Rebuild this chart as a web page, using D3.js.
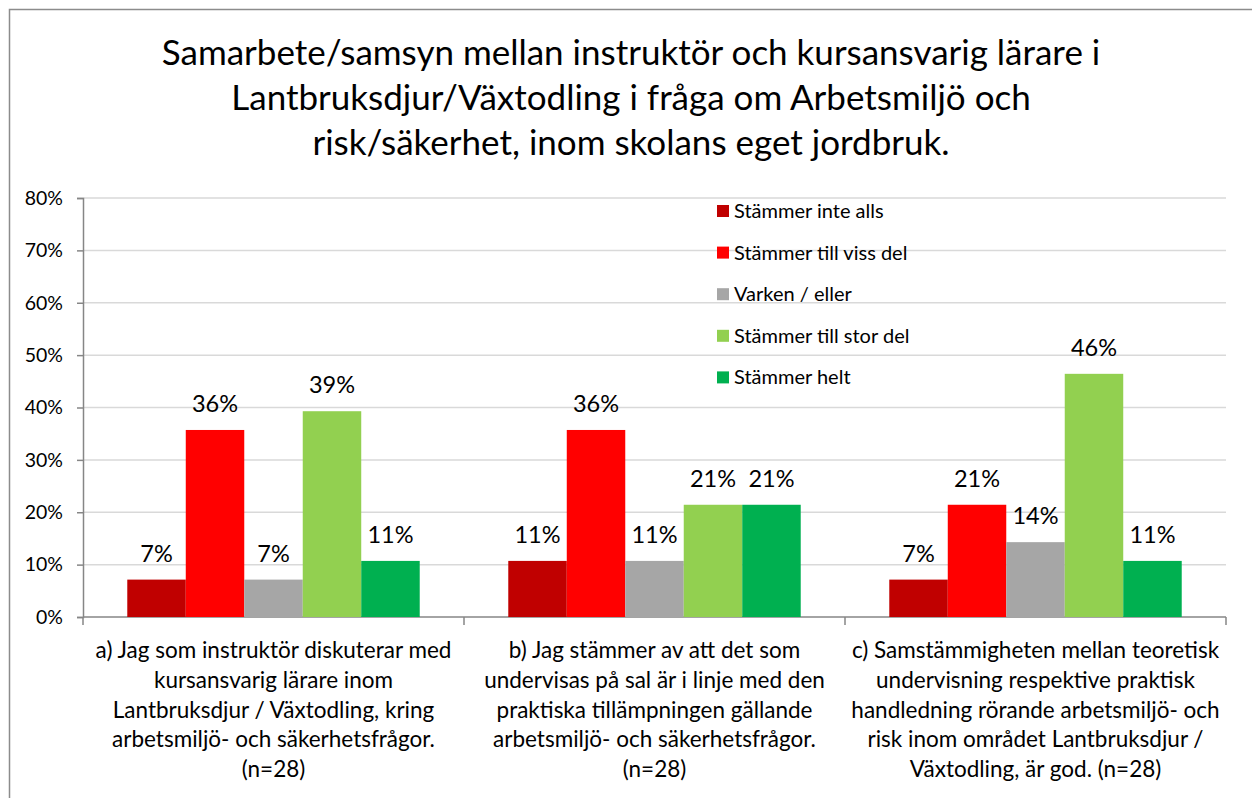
<!DOCTYPE html>
<html>
<head>
<meta charset="utf-8">
<script src="https://cdn.jsdelivr.net/npm/d3@7"></script>
<style>
  body { margin: 0; background: #fff; }
  svg { display: block; font-family: Lato, "Open Sans", sans-serif; }
</style>
</head>
<body>
<div id="chart"></div>
<script>
// chart data (n=28 per question)
const titleLines = [
    "Samarbete/samsyn mellan instruktör och kursansvarig lärare i",
    "Lantbruksdjur/Växtodling i fråga om Arbetsmiljö och",
    "risk/säkerhet, inom skolans eget jordbruk."
];

const categories = ["a", "b", "c"];
const categoryLabels = [
    ["a) Jag som instruktör diskuterar med", "kursansvarig lärare inom", "Lantbruksdjur / Växtodling, kring", "arbetsmiljö- och säkerhetsfrågor.", "(n=28)"],
    ["b) Jag stämmer av att det som", "undervisas på sal är i linje med den", "praktiska tillämpningen gällande", "arbetsmiljö- och säkerhetsfrågor.", "(n=28)"],
    ["c) Samstämmigheten mellan teoretisk", "undervisning respektive praktisk", "handledning rörande arbetsmiljö- och", "risk inom området Lantbruksdjur /", "Växtodling, är god. (n=28)"]
];

const seriesNames = ["Stämmer inte alls", "Stämmer till viss del", "Varken / eller", "Stämmer till stor del", "Stämmer helt"];
const seriesColors = ["#C00000", "#FF0000", "#A6A6A6", "#92D050", "#00B050"];

// one array per series, values for categories a, b, c
const stammerInteAlls = [0.0714, 0.1071, 0.0714];
const stammerTillVissDel = [0.3571, 0.3571, 0.2143];
const varkenEller = [0.0714, 0.1071, 0.1429];
const stammerTillStorDel = [0.3929, 0.2143, 0.4643];
const stammerHelt = [0.1071, 0.2143, 0.1071];

const seriesValues = [stammerInteAlls, stammerTillVissDel, varkenEller, stammerTillStorDel, stammerHelt];

const yTicks = [0, 0.1, 0.2, 0.3, 0.4, 0.5, 0.6, 0.7, 0.8];

const W = 1252, H = 798;
const margin = {left: 83, right: 1226, top: 198, bottom: 617};

const svg = d3.select("#chart").append("svg")
    .attr("width", W)
    .attr("height", H);

svg.append("rect")
    .attr("x", 9.5).attr("y", 9.5)
    .attr("width", 1260).attr("height", 820)
    .attr("fill", "#fff")
    .attr("stroke", "#8c8c8c")
    .attr("stroke-width", 1.5);

// title
svg.append("g").selectAll("text")
    .data(titleLines)
    .enter().append("text")
        .attr("x", 631)
        .attr("y", (d, i) => 65 + i * 45)
        .attr("text-anchor", "middle")
        .style("font-size", "35px")
        .attr("fill", "#000")
        .text(d => d);

const y = d3.scaleLinear()
    .domain([0, 0.8])
    .range([margin.bottom, margin.top]);

const x0 = d3.scaleBand()
    .domain(categories)
    .range([margin.left, margin.right])
    .padding(0);

const x1 = d3.scaleBand()
    .domain(d3.range(seriesNames.length))
    .range([0, x0.bandwidth()])
    .paddingInner(0)
    .paddingOuter(0.757);

// gridlines
svg.append("g").selectAll("line")
    .data(yTicks.slice(1))
    .enter().append("line")
        .attr("x1", margin.left).attr("x2", margin.right)
        .attr("y1", d => y(d)).attr("y2", d => y(d))
        .attr("stroke", "#d9d9d9")
        .attr("stroke-width", 1.5);

// y axis
const yAxis = svg.append("g")
    .attr("transform", `translate(${margin.left},0)`)
    .call(d3.axisLeft(y).tickValues(yTicks).tickFormat(d3.format(".0%")).tickSize(6).tickPadding(14));
yAxis.select(".domain").attr("stroke", "#868686").attr("stroke-width", 1.5);
yAxis.selectAll(".tick line").attr("stroke", "#868686").attr("stroke-width", 1.5);
yAxis.selectAll(".tick text")
    .style("font-size", "19.5px")
    .style("font-family", "Lato, sans-serif")
    .attr("fill", "#000");

// x axis with ticks at category boundaries
svg.append("line")
    .attr("x1", margin.left).attr("x2", margin.right)
    .attr("y1", margin.bottom).attr("y2", margin.bottom)
    .attr("stroke", "#868686").attr("stroke-width", 1.5);
svg.append("g").selectAll("line")
    .data(categories.concat(["end"]))
    .enter().append("line")
        .attr("x1", (d, i) => margin.left + i * x0.bandwidth())
        .attr("x2", (d, i) => margin.left + i * x0.bandwidth())
        .attr("y1", margin.bottom).attr("y2", margin.bottom + 8)
        .attr("stroke", "#868686").attr("stroke-width", 1.5);

// bars
const groups = svg.append("g").selectAll("g")
    .data(categories)
    .enter().append("g")
        .attr("transform", d => `translate(${x0(d)},0)`);

groups.selectAll("rect")
    .data((c, ci) => seriesValues.map((vals, si) => ({s: si, v: vals[ci]})))
    .enter().append("rect")
        .attr("x", d => x1(d.s))
        .attr("y", d => y(d.v))
        .attr("width", x1.bandwidth())
        .attr("height", d => y(0) - y(d.v))
        .attr("fill", d => seriesColors[d.s]);

groups.selectAll("text.lbl")
    .data((c, ci) => seriesValues.map((vals, si) => ({s: si, v: vals[ci]})))
    .enter().append("text")
        .attr("class", "lbl")
        .attr("x", d => x1(d.s) + x1.bandwidth() / 2)
        .attr("y", d => y(d.v) - 18)
        .attr("text-anchor", "middle")
        .style("font-size", "23.5px")
        .text(d => d3.format(".0%")(d.v));

// category labels
svg.append("g").selectAll("text")
    .data(categories)
    .enter().append("text")
        .attr("x", d => x0(d) + x0.bandwidth() / 2)
        .attr("text-anchor", "middle")
        .style("font-size", "22.5px")
        .selectAll("tspan")
            .data((d, i) => categoryLabels[i])
            .enter().append("tspan")
                .attr("x", function () { return this.parentNode.getAttribute("x"); })
                .attr("y", (d, i) => 658 + i * 29.8)
                .text(d => d);

// legend
const legend = svg.append("g").selectAll("g")
    .data(seriesNames)
    .enter().append("g")
        .attr("transform", (d, i) => `translate(717,${211 + i * 41.6})`);
legend.append("rect")
    .attr("x", 0).attr("y", -6)
    .attr("width", 12).attr("height", 12)
    .attr("fill", (d, i) => seriesColors[i]);
legend.append("text")
    .attr("x", 17).attr("dy", "0.35em")
    .style("font-size", "20px")
    .text(d => d);
</script>
</body>
</html>
